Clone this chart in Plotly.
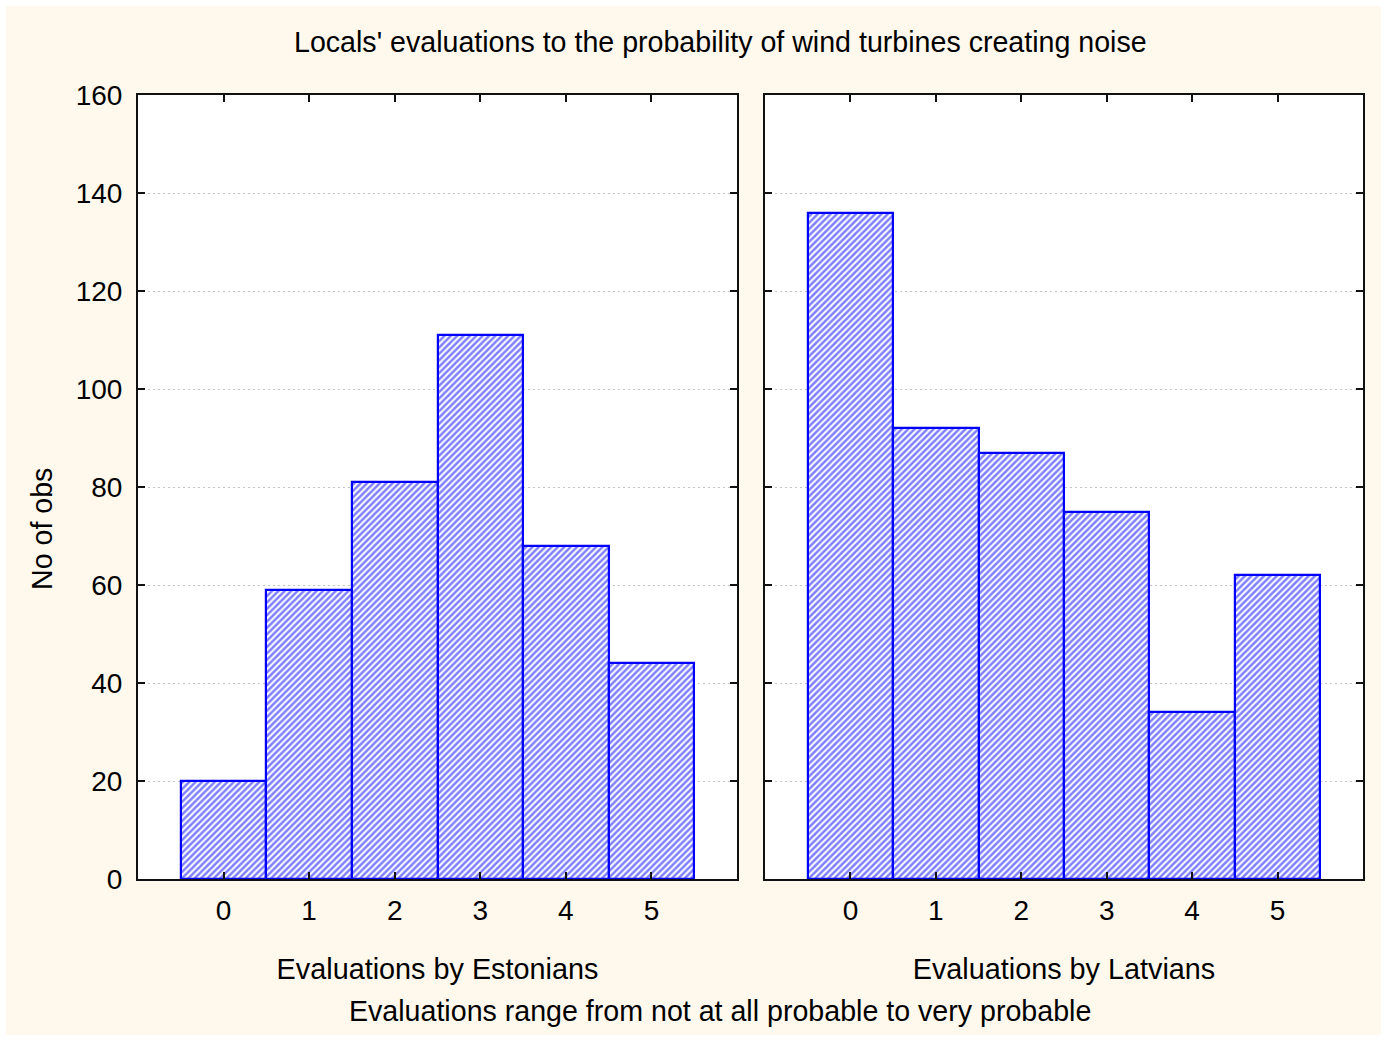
import plotly.graph_objects as go

categories = [0, 1, 2, 3, 4, 5]
estonians = [20, 59, 81, 111, 68, 44]
latvians = [136, 92, 87, 75, 34, 62]
y_ticks = [0, 20, 40, 60, 80, 100, 120, 140, 160]

W, H = 1387, 1041
L, R, T, B = 138, 24, 95, 162
pw, ph = W - L - R, H - T - B

def px(x):
    return (x - L) / pw

def py(y):
    return (H - B - y) / ph

FONT = "Liberation Sans, Arial, sans-serif"
BLUE = "#0000FF"
CREAM = "#FFF9ED"

pattern = dict(shape="/", fgcolor=BLUE, bgcolor="white", size=4.5, solidity=0.55)

fig = go.Figure()
fig.add_trace(go.Bar(x=categories, y=estonians, xaxis="x", yaxis="y",
                     marker=dict(color="white", line=dict(color=BLUE, width=2.2), pattern=pattern),
                     width=1.0, showlegend=False))
fig.add_trace(go.Bar(x=categories, y=latvians, xaxis="x2", yaxis="y2",
                     marker=dict(color="white", line=dict(color=BLUE, width=2.2), pattern=pattern),
                     width=1.0, showlegend=False))

axis_common = dict(showline=True, linecolor="#111111", linewidth=2, mirror="ticks",
                   ticks="inside", ticklen=7, tickwidth=1.5, tickcolor="#111111",
                   tickfont=dict(family=FONT, size=28, color="black"), zeroline=False)

x1 = px(737)
x2s = px(765)
grid = dict(showgrid=True, gridcolor="#C4C4C4", griddash="2px,3px", gridwidth=1)

fig.update_layout(
    width=W, height=H,
    margin=dict(l=L, r=R, t=T, b=B),
    paper_bgcolor="white",
    plot_bgcolor="white",
    font=dict(family=FONT, color="black"),
    bargap=0,
    xaxis=dict(domain=[0, x1], range=[-1, 6], tickvals=categories, showgrid=False,
               ticklabelstandoff=5,
               title=dict(text="Evaluations by Estonians", font=dict(family=FONT, size=28.8), standoff=34),
               **axis_common),
    xaxis2=dict(domain=[x2s, 1], range=[-1, 6], tickvals=categories, showgrid=False, anchor="y2",
                ticklabelstandoff=5,
                title=dict(text="Evaluations by Latvians", font=dict(family=FONT, size=28.8), standoff=34),
                **axis_common),
    yaxis=dict(domain=[0, 1], range=[0, 160], tickvals=y_ticks, ticklabelstandoff=8,
               **grid, **axis_common),
    yaxis2=dict(domain=[0, 1], range=[0, 160], tickvals=y_ticks, anchor="x2",
                showticklabels=False, **grid, **axis_common),
    shapes=[
        dict(type="rect", xref="paper", yref="paper", x0=px(6), x1=px(1381), y0=py(1035), y1=py(6),
             fillcolor=CREAM, line=dict(width=0), layer="below"),
        dict(type="rect", xref="x domain", yref="y domain", x0=0, x1=1, y0=0, y1=1,
             fillcolor="white", line=dict(width=0), layer="below"),
        dict(type="rect", xref="x2 domain", yref="y2 domain", x0=0, x1=1, y0=0, y1=1,
             fillcolor="white", line=dict(width=0), layer="below"),
    ],
    annotations=[
        dict(text="Locals' evaluations to the probability of wind turbines creating noise",
             xref="paper", yref="paper", x=px(720), y=py(42), showarrow=False,
             xanchor="center", yanchor="middle", font=dict(family=FONT, size=28.6)),
        dict(text="Evaluations range from not at all probable to very probable",
             xref="paper", yref="paper", x=px(720), y=py(1011), showarrow=False,
             xanchor="center", yanchor="middle", font=dict(family=FONT, size=28.6)),
        dict(text="No of obs", xref="paper", yref="paper", x=px(42), y=py(529), showarrow=False,
             textangle=-90, xanchor="center", yanchor="middle", font=dict(family=FONT, size=28.6)),
    ],
)

fig.write_html("out.html", config={"displayModeBar": False},
               post_script="document.body.style.margin='0';document.body.style.padding='0';")
